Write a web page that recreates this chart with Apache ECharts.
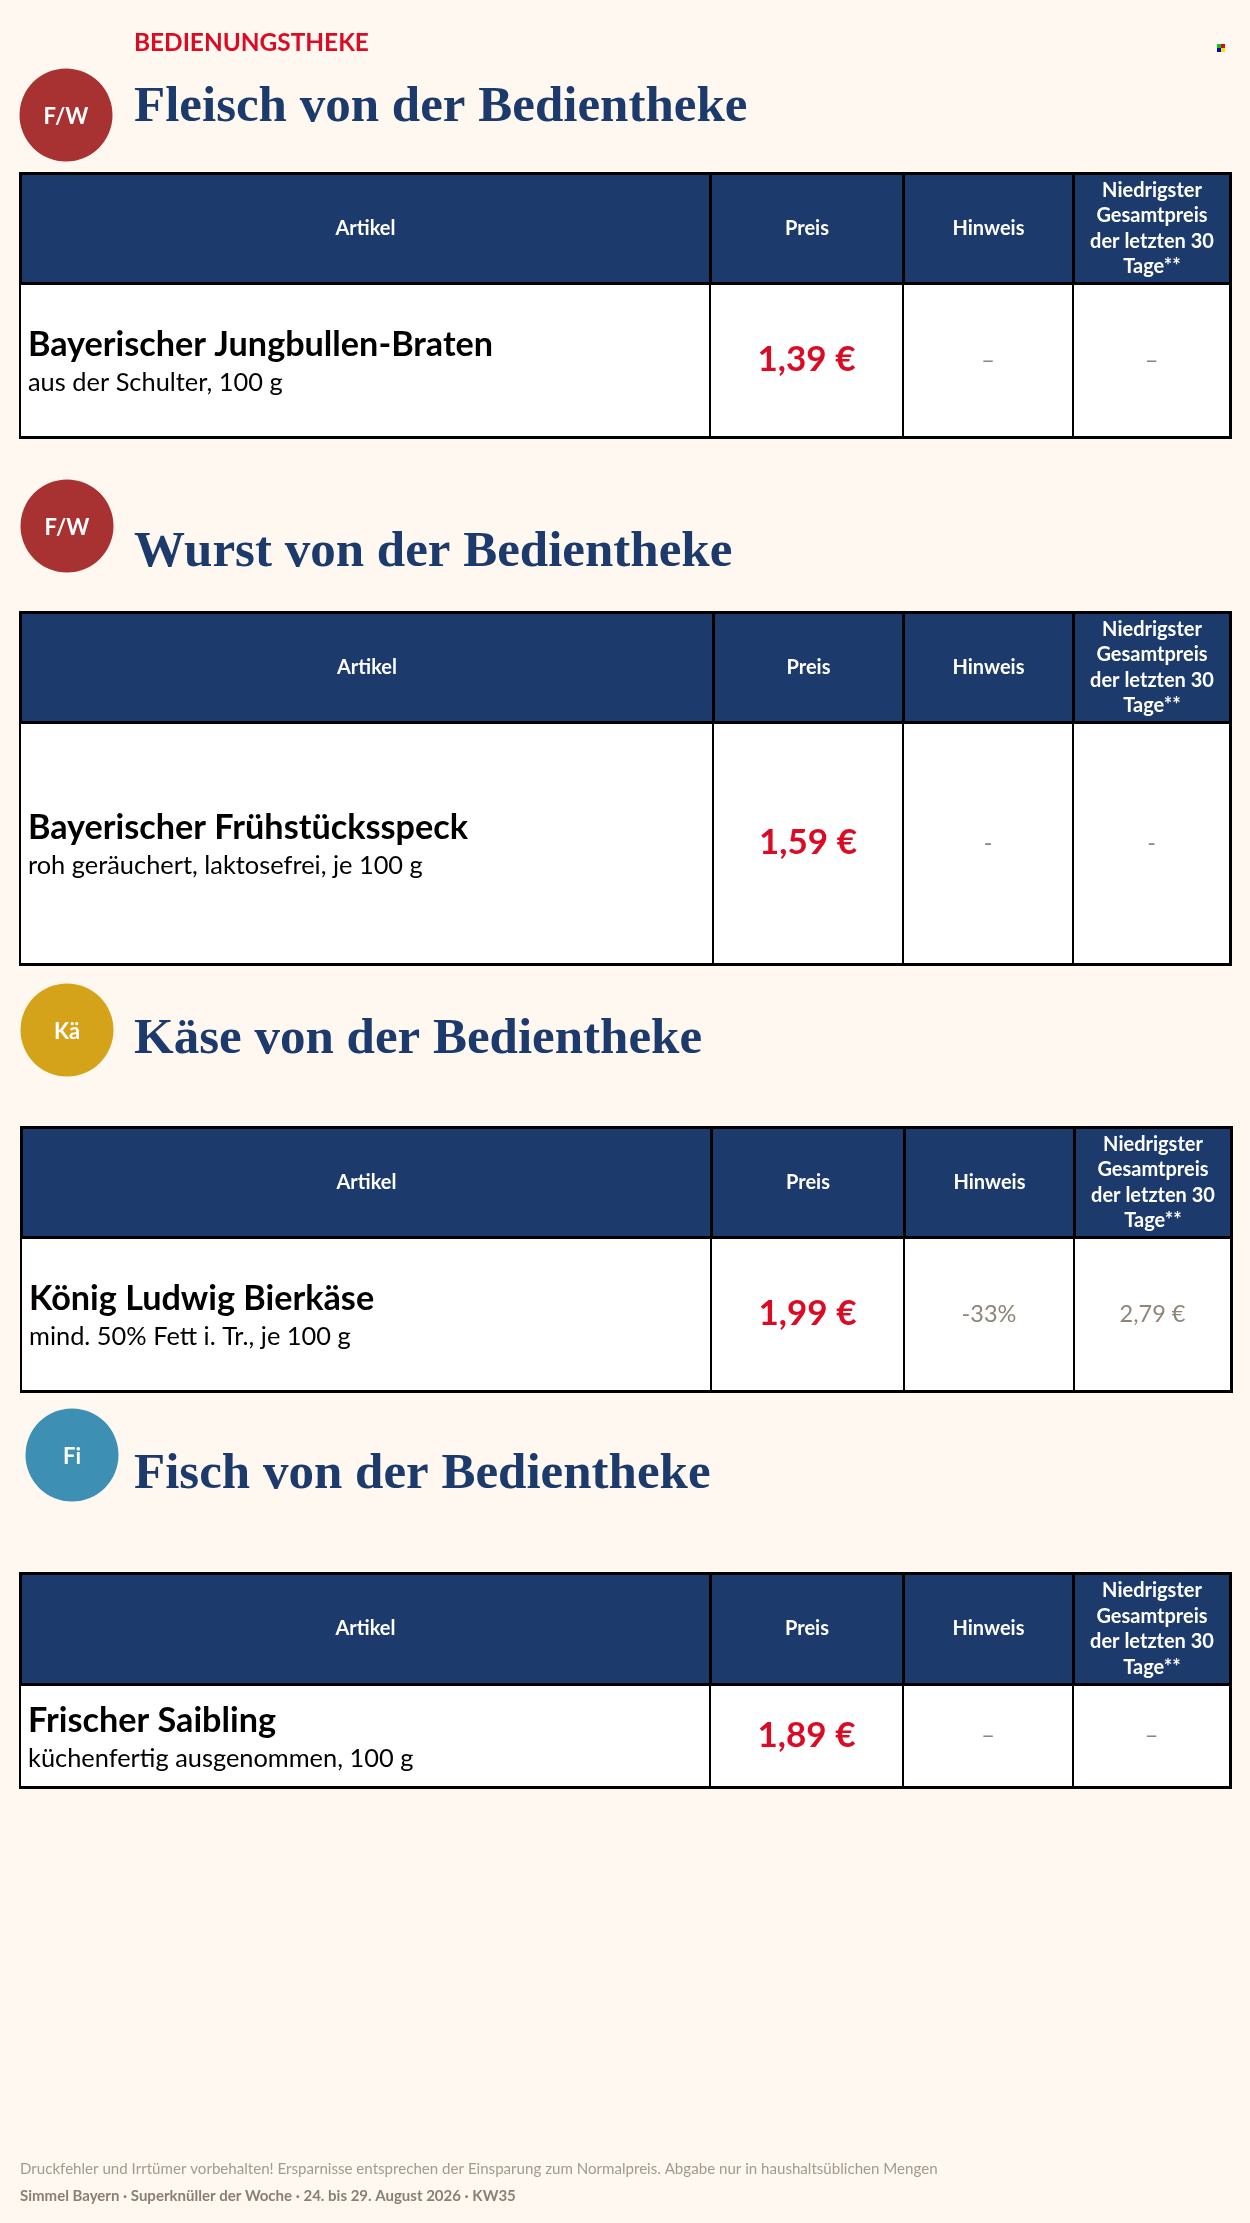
<!DOCTYPE html>
<html>
<head>
<meta charset="utf-8">
<title>Bedienungstheke</title>
<style>
html, body { margin: 0; padding: 0; background: #fff8f1; }
#main { width: 1250px; height: 2223px; }
</style>
<script src="https://cdn.jsdelivr.net/npm/echarts@6/dist/echarts.min.js"></script>
</head>
<body>
<div id="main"></div>
<script>
// Inhalt
var kicker = 'BEDIENUNGSTHEKE';
var sectionTitles = ['Fleisch von der Bedientheke', 'Wurst von der Bedientheke', 'Käse von der Bedientheke', 'Fisch von der Bedientheke'];
var badgeLabels = ['F/W', 'F/W', 'Kä', 'Fi'];
var headerLabels = ['Artikel', 'Preis', 'Hinweis', 'Niedrigster\nGesamtpreis\nder letzten 30\nTage**'];
var articleNames = ['Bayerischer Jungbullen-Braten', 'Bayerischer Frühstücksspeck', 'König Ludwig Bierkäse', 'Frischer Saibling'];
var articleDetails = ['aus der Schulter, 100 g', 'roh geräuchert, laktosefrei, je 100 g', 'mind. 50% Fett i. Tr., je 100 g', 'küchenfertig ausgenommen, 100 g'];
var prices = ['1,39 €', '1,59 €', '1,99 €', '1,89 €'];
var hints = ['–', '-', '-33%', '–'];
var lowestPrices = ['–', '-', '2,79 €', '–'];
var footerLines = ['Druckfehler und Irrtümer vorbehalten! Ersparnisse entsprechen der Einsparung zum Normalpreis. Abgabe nur in haushaltsüblichen Mengen',
    'Simmel Bayern · Superknüller der Woche · 24. bis 29. August 2026 · KW35'];

// Layout (Pixel)
var tableLefts = [20, 20, 21, 20];
var tableTops = [173, 612, 1127, 1573];
var headerBottoms = [283, 722, 1237, 1684];
var tableBottoms = [437, 964, 1391, 1787];
var colEdges = [
    [710, 903, 1073, 1230],
    [713, 903, 1073, 1230],
    [711, 904, 1074, 1231],
    [710, 903, 1073, 1230]
];
var badgeCenters = [[66, 115], [67, 526], [67, 1030], [72, 1455]];
var badgeColors = ['#a83232', '#a83232', '#d4a31a', '#3d8fb3'];
var titleBaselines = [121, 566, 1053, 1488];

var navy = '#1c3a6b';
var red = '#dc0a23';
var grey = '#8f8578';
var sansFont = 'Lato';
var articleLineHeight = 38;

// eine Tabelle als matrix
function buildMatrix(i) {
    var left = tableLefts[i];
    var edges = colEdges[i];
    var columns = headerLabels.map(function (label, c) {
        return { value: label, size: edges[c] - (c === 0 ? left : edges[c - 1]) };
    });
    // rich text steht sonst oben in der Zelle
    var rowHeight = tableBottoms[i] - headerBottoms[i];
    var articlePadTop = (rowHeight - 2 * articleLineHeight) / 2 + 4;
    return {
        left: left,
        top: tableTops[i],
        width: edges[3] - left,
        height: tableBottoms[i] - tableTops[i],
        backgroundStyle: { color: '#fff', borderColor: '#000', borderWidth: 3 },
        borderZ2: 10,
        x: {
            data: columns,
            levels: [{ levelSize: headerBottoms[i] - tableTops[i] }],
            label: { color: '#fff', fontFamily: sansFont, fontWeight: 'bold', fontSize: 20, lineHeight: 25.5, offset: [0, 2] },
            itemStyle: { color: navy, borderColor: '#000', borderWidth: 3 },
            dividerLineStyle: { color: '#000', width: 3 }
        },
        y: { show: false, data: [articleNames[i]] },
        body: {
            itemStyle: { color: '#fff', borderColor: '#000', borderWidth: 2 },
            label: { fontFamily: sansFont },
            data: [
                {
                    coord: [0, 0],
                    value: '{name|' + articleNames[i] + '}\n{sub|' + articleDetails[i] + '}',
                    label: {
                        position: 'insideLeft', distance: 8, overflow: 'none', padding: [articlePadTop, 0, 0, 0],
                        rich: {
                            name: { fontFamily: sansFont, fontWeight: 'bold', fontSize: 34.2, color: '#000', lineHeight: articleLineHeight },
                            sub: { fontFamily: sansFont, fontSize: 25.4, color: '#000', lineHeight: articleLineHeight }
                        }
                    }
                },
                { coord: [1, 0], value: prices[i], label: { color: red, fontWeight: 'bold', fontSize: 35, offset: [0, 2] } },
                { coord: [2, 0], value: hints[i], label: { color: grey, fontSize: 23.5, offset: [0, 2] } },
                { coord: [3, 0], value: lowestPrices[i], label: { color: grey, fontSize: 23.5, offset: [0, 2] } }
            ]
        }
    };
}

var graphics = [];
graphics.push({
    type: 'text',
    style: { x: 134, y: 43, text: kicker, verticalAlign: 'middle', fontFamily: sansFont, fontWeight: 'bold', fontSize: 24.4, fill: red }
});
sectionTitles.forEach(function (title, i) {
    graphics.push({
        type: 'circle',
        shape: { cx: badgeCenters[i][0], cy: badgeCenters[i][1], r: 46.5 },
        style: { fill: badgeColors[i] }
    });
    graphics.push({
        type: 'text',
        style: {
            x: badgeCenters[i][0], y: badgeCenters[i][1] + 2, text: badgeLabels[i], align: 'center', verticalAlign: 'middle',
            fontFamily: sansFont, fontWeight: 'bold', fontSize: 22, fill: '#fff'
        }
    });
    graphics.push({
        type: 'text',
        style: {
            x: 134, y: titleBaselines[i] + 12, text: title, verticalAlign: 'bottom',
            fontFamily: 'Liberation Serif', fontWeight: 'bold', fontSize: 51, fill: navy
        }
    });
});
// kleines Farbquadrat oben rechts
[['#00d000', 1217, 44], ['#e8001c', 1221, 44], ['#0000e0', 1217, 48], ['#f2e600', 1221, 48]].forEach(function (p) {
    graphics.push({ type: 'rect', shape: { x: p[1], y: p[2], width: 4, height: 4 }, style: { fill: p[0] } });
});
graphics.push({
    type: 'text',
    style: { x: 20, y: 2169, text: footerLines[0], verticalAlign: 'middle', fontFamily: sansFont, fontSize: 15.1, fill: '#a39a8e' }
});
graphics.push({
    type: 'text',
    style: { x: 20, y: 2196, text: footerLines[1], verticalAlign: 'middle', fontFamily: sansFont, fontWeight: 'bold', fontSize: 15, fill: '#8a7f72' }
});

var chart = echarts.init(document.getElementById('main'), null, { renderer: 'canvas' });
chart.setOption({
    backgroundColor: '#fff8f1',
    animation: false,
    matrix: sectionTitles.map(function (t, i) { return buildMatrix(i); }),
    graphic: { elements: graphics }
});
</script>
</body>
</html>
